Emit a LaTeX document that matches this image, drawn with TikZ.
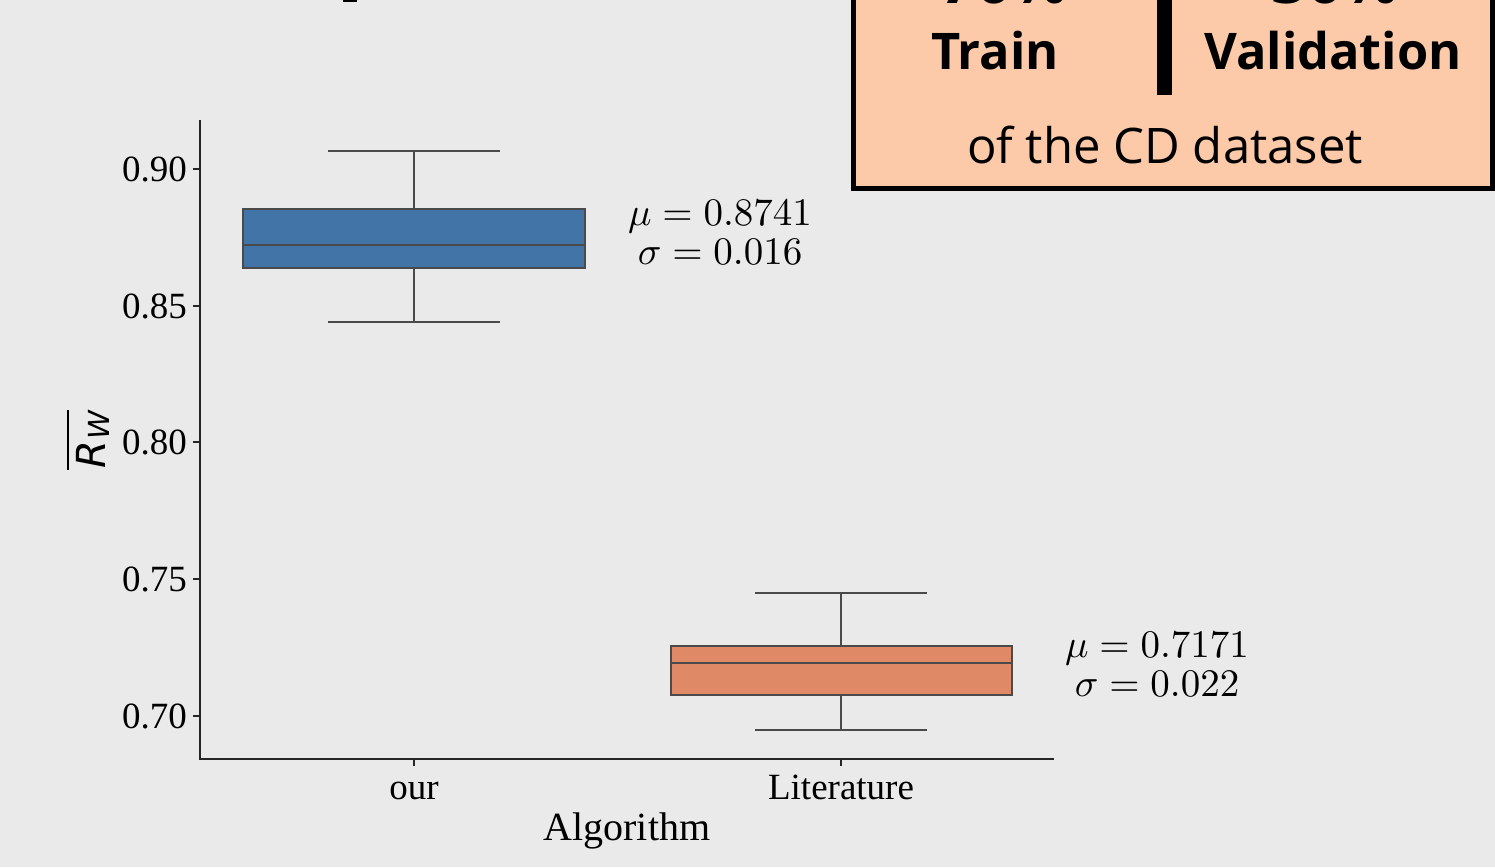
\documentclass[tikz,border=0pt]{standalone}
\usepackage{fix-cm}
\usepackage[no-math]{fontspec}
\newfontfamily\tms{Liberation Serif}
\newfontfamily\osans{Open Sans}
\newfontfamily\dvs{DejaVu Sans}
\definecolor{bgc}{HTML}{EAEAEA}
\definecolor{axc}{HTML}{262626}
\definecolor{edgec}{HTML}{4A4A4A}
\definecolor{blueb}{HTML}{4374A8}
\definecolor{orangeb}{HTML}{DF8966}
\definecolor{peach}{HTML}{FCCAA8}
\tikzset{
  axisline/.style={draw=axc, line width=2pt},
  bxline/.style={draw=edgec, line width=2pt},
  ticklab/.style={font=\tms\fontsize{37}{40}\selectfont, inner sep=0pt, text=black},
  statlab/.style={font=\fontsize{10}{12}\selectfont, inner sep=0pt, anchor=base, scale=3.9},
  legbold/.style={font=\osans\bfseries\fontsize{50.5}{55}\selectfont, inner sep=0pt, anchor=base},
}
\begin{document}
\begin{tikzpicture}[x=1pt,y=-1pt]
\fill[bgc] (0,0) rectangle (1495,867);
\useasboundingbox (0,0) rectangle (1495,867);

% cut-off title fragment
\fill[black] (343,-2) rectangle (357,2.5);

% legend box (cut off at top)
\draw[fill=peach, draw=black, line width=5pt] (853.5,-20) rectangle (1492.5,188.5);
\fill[black] (1157,-20) rectangle (1172,95);
\node[legbold, font=\osans\bfseries\fontsize{62}{66}\selectfont] (p70) at (1004,4) {70\%};
\node[legbold, font=\osans\bfseries\fontsize{62}{66}\selectfont] (p30) at (1335,4) {30\%};
\node[legbold] (train) at (995,70) {Train};
\node[legbold] (valid) at (1333,70) {Validation};
\node[legbold, font=\osans\fontsize{49}{53}\selectfont] (cd) at (1165,163) {of the CD dataset};

% axes
\draw[axisline] (200,120) -- (200,759) -- (1054,759);
\foreach \yy/\lab in {169/0.90, 306/0.85, 442/0.80, 579/0.75, 716/0.70}{
  \draw[axisline] (193,\yy) -- (200,\yy);
  \node[ticklab, anchor=east] at (187,\yy) {\lab};
}
\draw[axisline] (414,759) -- (414,766);
\draw[axisline] (841,759) -- (841,766);
\node[ticklab, anchor=base] (our) at (414,799) {our};
\node[ticklab, anchor=base] (lit) at (841,799) {Literature};
\node[ticklab, anchor=base, font=\tms\fontsize{40}{44}\selectfont] (alg) at (627,840) {Algorithm};
\node[inner sep=0pt, rotate=90, anchor=base, font=\dvs\itshape\fontsize{40}{44}\selectfont] (ylab) at (105,440)
  {R\kern1pt\raisebox{-4pt}{\fontsize{29}{31}\selectfont W}};
\draw[line width=2.5pt, black] (68,470) -- (68,410);

% blue box (our)
\draw[bxline] (414,151) -- (414,209);
\draw[bxline] (414,268) -- (414,322);
\draw[bxline] (328,151) -- (500,151);
\draw[bxline] (328,322) -- (500,322);
\draw[bxline, fill=blueb] (243,209) rectangle (585,268);
\draw[bxline] (243,245) -- (585,245);
\node[statlab] (mu1) at (720,225) {$\mu = 0.8741$};
\node[statlab] (sg1) at (720,264) {$\sigma = 0.016$};

% orange box (Literature)
\draw[bxline] (841,593) -- (841,646);
\draw[bxline] (841,695) -- (841,730);
\draw[bxline] (755,593) -- (927,593);
\draw[bxline] (755,730) -- (927,730);
\draw[bxline, fill=orangeb] (671,646) rectangle (1012,695);
\draw[bxline] (671,663) -- (1012,663);
\node[statlab] (mu2) at (1157,657) {$\mu = 0.7171$};
\node[statlab] (sg2) at (1157,696) {$\sigma = 0.022$};
\end{tikzpicture}
\end{document}
